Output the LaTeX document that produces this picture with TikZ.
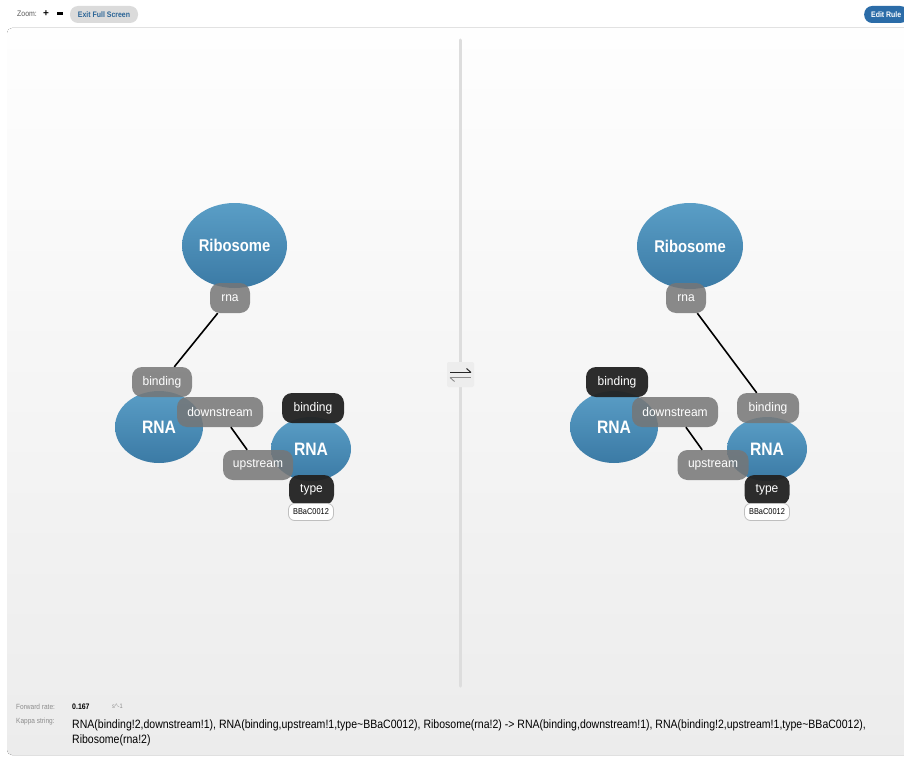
\documentclass[tikz,border=0pt]{standalone}
\usepackage{fontspec}
\setmainfont{Liberation Sans}
\newfontfamily\condfont[FakeStretch=0.87]{Liberation Sans}
\newfontfamily\sitefont[FakeStretch=0.96]{Liberation Sans}
\usetikzlibrary{shapes.geometric}
\definecolor{molTop}{HTML}{5A9EC6}
\definecolor{molBot}{HTML}{3B7AA5}
\definecolor{siteGray}{HTML}{767676}
\definecolor{siteDark}{HTML}{222222}
\definecolor{panelTop}{HTML}{FEFEFE}
\definecolor{panelBot}{HTML}{ECECEC}
\definecolor{divider}{HTML}{DDDDDD}
\definecolor{linkBlue}{HTML}{2A6496}
\definecolor{btnBlue}{HTML}{2B6CA8}
\definecolor{labelGray}{HTML}{8C8C8C}
\tikzset{
  mol/.style={ellipse, inner sep=0pt, top color=molTop, bottom color=molBot,
    text=white, font=\condfont\bfseries\fontsize{18}{20}\selectfont},
  site/.style={rectangle, rounded corners=10pt, inner sep=0pt, minimum height=30pt,
    fill=siteGray, fill opacity=0.85, text opacity=1, text=white,
    font=\sitefont\fontsize{12.5}{14}\selectfont},
  darksite/.style={site, fill=siteDark, fill opacity=0.95},
  state/.style={rectangle, rounded corners=6pt, inner sep=0pt, minimum width=45pt,
    minimum height=17pt, fill=white, draw=black!25, line width=0.8pt,
    font=\condfont\fontsize{8.5}{10}\selectfont},
  bond/.style={line width=1.6pt, black},
  smalllabel/.style={anchor=west, inner sep=0pt, text=labelGray,
    font=\condfont\fontsize{7.5}{9}\selectfont},
}
\begin{document}
\begin{tikzpicture}[x=1pt,y=-1pt]
\useasboundingbox (0,0) rectangle (904,757);
\fill[white] (0,0) rectangle (904,757);
% panel background
\fill[top color=panelTop, bottom color=panelBot, rounded corners=5pt] (7,28) rectangle (914,755);
% divider between the two sides of the rule
\draw[line width=3pt, divider, line cap=round] (460,40) -- (460,686);

% header controls
\node[anchor=west, inner sep=0pt, text=black!65, font=\condfont\fontsize{8}{9}\selectfont] (zoomlbl) at (17,14) {Zoom:};
\node[inner sep=0pt, font=\bfseries\fontsize{10}{10}\selectfont] (zplus) at (46,13.5) {+};
\fill[black] (57,12.3) rectangle (63,14.7);
\node[rectangle, rounded corners=8pt, fill=black!14, minimum width=68pt, minimum height=17pt, inner sep=0pt,
  text=linkBlue, font=\condfont\bfseries\fontsize{8}{9}\selectfont] (exitbtn) at (104,14.5) {Exit Full Screen};
\node[rectangle, rounded corners=8pt, fill=btnBlue, minimum width=44pt, minimum height=17pt, inner sep=0pt,
  text=white, font=\condfont\bfseries\fontsize{8}{9}\selectfont, anchor=west] (editbtn) at (864,14.5) {Edit Rule\hspace{3pt}};

% ---- left-hand side ----
\node[mol, minimum width=105pt, minimum height=85pt, font=\condfont\bfseries\fontsize{17}{20}\selectfont] (ribL) at (234.5,245.5) {Ribosome};
\node[mol, minimum width=88pt, minimum height=72pt] (rnaAL) at (159,427) {RNA};
\node[mol, minimum width=80pt, minimum height=64pt] (rnaBL) at (311,449) {RNA};

\node[site, minimum width=40pt] (rnaSiteL) at (230,298) {rna};
\node[site, minimum width=60pt] (bindAL) at (162,382) {binding};
\node[site, minimum width=86pt] (downAL) at (220,412) {downstream};
\node[site, minimum width=70pt] (upBL) at (258,465) {upstream};
\node[darksite, minimum width=62pt] (bindBL) at (313,408) {binding};
\node[darksite, minimum width=45pt] (typeBL) at (311.5,490) {type};
\node[state] (valBL) at (311,512) {BBaC0012};

\draw[bond] (rnaSiteL) -- (bindAL);
\draw[bond] (downAL) -- (upBL);

% ---- right-hand side ----
\node[mol, minimum width=106pt, minimum height=86pt, font=\condfont\bfseries\fontsize{17}{20}\selectfont] (ribR) at (690,246) {Ribosome};
\node[mol, minimum width=88pt, minimum height=72pt] (rnaAR) at (614,427) {RNA};
\node[mol, minimum width=80pt, minimum height=64pt] (rnaBR) at (767,449) {RNA};

\node[site, minimum width=40pt] (rnaSiteR) at (686,298) {rna};
\node[darksite, minimum width=62pt] (bindAR) at (617,382) {binding};
\node[site, minimum width=86pt] (downAR) at (675,412) {downstream};
\node[site, minimum width=71pt] (upBR) at (713,465) {upstream};
\node[site, minimum width=62pt] (bindBR) at (768,408) {binding};
\node[darksite, minimum width=45pt] (typeBR) at (767,490) {type};
\node[state] (valBR) at (767,512) {BBaC0012};

\draw[bond] (rnaSiteR) -- (bindBR);
\draw[bond] (downAR) -- (upBR);

% reversible reaction sign
\node[rectangle, rounded corners=2pt, fill=black!7, minimum width=27pt, minimum height=25pt, inner sep=0pt] (rev) at (460.5,374.5) {};
\draw[line width=1.6pt, black!85] (450,372.5) -- (471,372.5);
\draw[line width=1pt, black!85] (471,372.5) -- (466.5,368.5);
\draw[line width=1pt, black!45] (450,377.5) -- (471,377.5);
\draw[line width=0.9pt, black!45] (450,377.5) -- (454.5,381.5);

% rule details
\node[smalllabel] (fwdlbl) at (16,707) {Forward rate:};
\node[anchor=west, inner sep=0pt, font=\condfont\bfseries\fontsize{8}{9}\selectfont] (fwdval) at (72,707) {0.167};
\node[smalllabel, font=\condfont\fontsize{6.5}{8}\selectfont] (fwdunit) at (112,706) {s\textasciicircum-1};
\node[smalllabel] (kappalbl) at (16,722) {Kappa string:};
\node[anchor=north west, inner sep=0pt, align=left, font=\condfont\fontsize{12.1}{15}\selectfont] (kappa) at (72,720)
  {RNA(binding!2,downstream!1), RNA(binding,upstream!1,type\textasciitilde BBaC0012), Ribosome(rna!2) -> RNA(binding,downstream!1), RNA(binding!2,upstream!1,type\textasciitilde BBaC0012),\\
   Ribosome(rna!2)};
\end{tikzpicture}
\end{document}
